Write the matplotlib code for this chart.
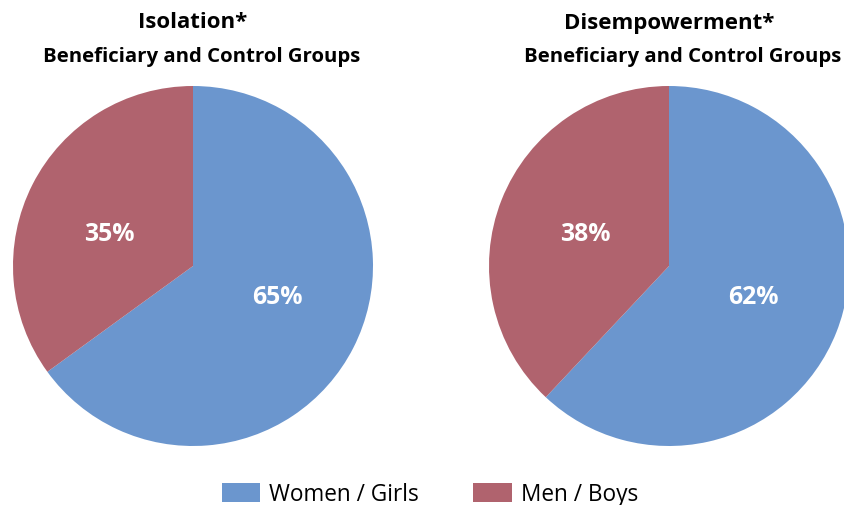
import matplotlib
matplotlib.use("Agg")
import matplotlib.pyplot as plt
from matplotlib.patches import Patch
import numpy as np

plt.rcParams['font.family'] = ['Open Sans', 'DejaVu Sans']

categories = ["Women / Girls", "Men / Boys"]
isolation = [65, 35]
disempowerment = [62, 38]
titles = ["Isolation*", "Disempowerment*"]
subtitle = "Beneficiary and Control Groups"
colors = ["#6B96CE", "#B0636E"]

W, H = 845, 506
fig = plt.figure(figsize=(W / 100, H / 100), dpi=100)

def px_axes(cx, cy, r):
    return fig.add_axes([(cx - r) / W, (H - cy - r) / H, 2 * r / W, 2 * r / H])

# label placement angles (degrees) and radius, as in the original layout
label_angles = [-20, 158.5]
label_r = 0.5

panels = [
    (isolation, titles[0], 193, 202),
    (disempowerment, titles[1], 669, 683),
]
for vals, title, cx, subx in panels:
    ax = px_axes(cx, 267, 180)
    wedges, texts, autotexts = ax.pie(
        vals, colors=colors, startangle=90, counterclock=False,
        autopct=lambda p: f"{p:.0f}%", pctdistance=0.5, radius=1,
        textprops=dict(color="white", fontsize=17.8, fontweight="bold"))
    for t, a in zip(autotexts, label_angles):
        t.set_position((label_r * np.cos(np.radians(a)), label_r * np.sin(np.radians(a))))
    ax.set_xlim(-1, 1)
    ax.set_ylim(-1, 1)
    ax.set_aspect("equal")
    for w in wedges:
        w.set_clip_on(False)
    fig.text(cx / W, 1 - 23 / H, title, ha="center", va="center",
             fontsize=16, fontweight="bold", color="black")
    fig.text(subx / W, 1 - 57 / H, subtitle, ha="center", va="center",
             fontsize=14.7, fontweight="bold", color="black")

handles = [Patch(facecolor=c, edgecolor="none") for c in colors]
fig.legend(handles, categories, loc="center", bbox_to_anchor=(430 / W, 1 - 495 / H),
           ncol=2, frameon=False, fontsize=16.3, handlelength=1.7, handleheight=0.9,
           columnspacing=2.4, handletextpad=0.4)

fig.savefig("out.png", dpi=100)
